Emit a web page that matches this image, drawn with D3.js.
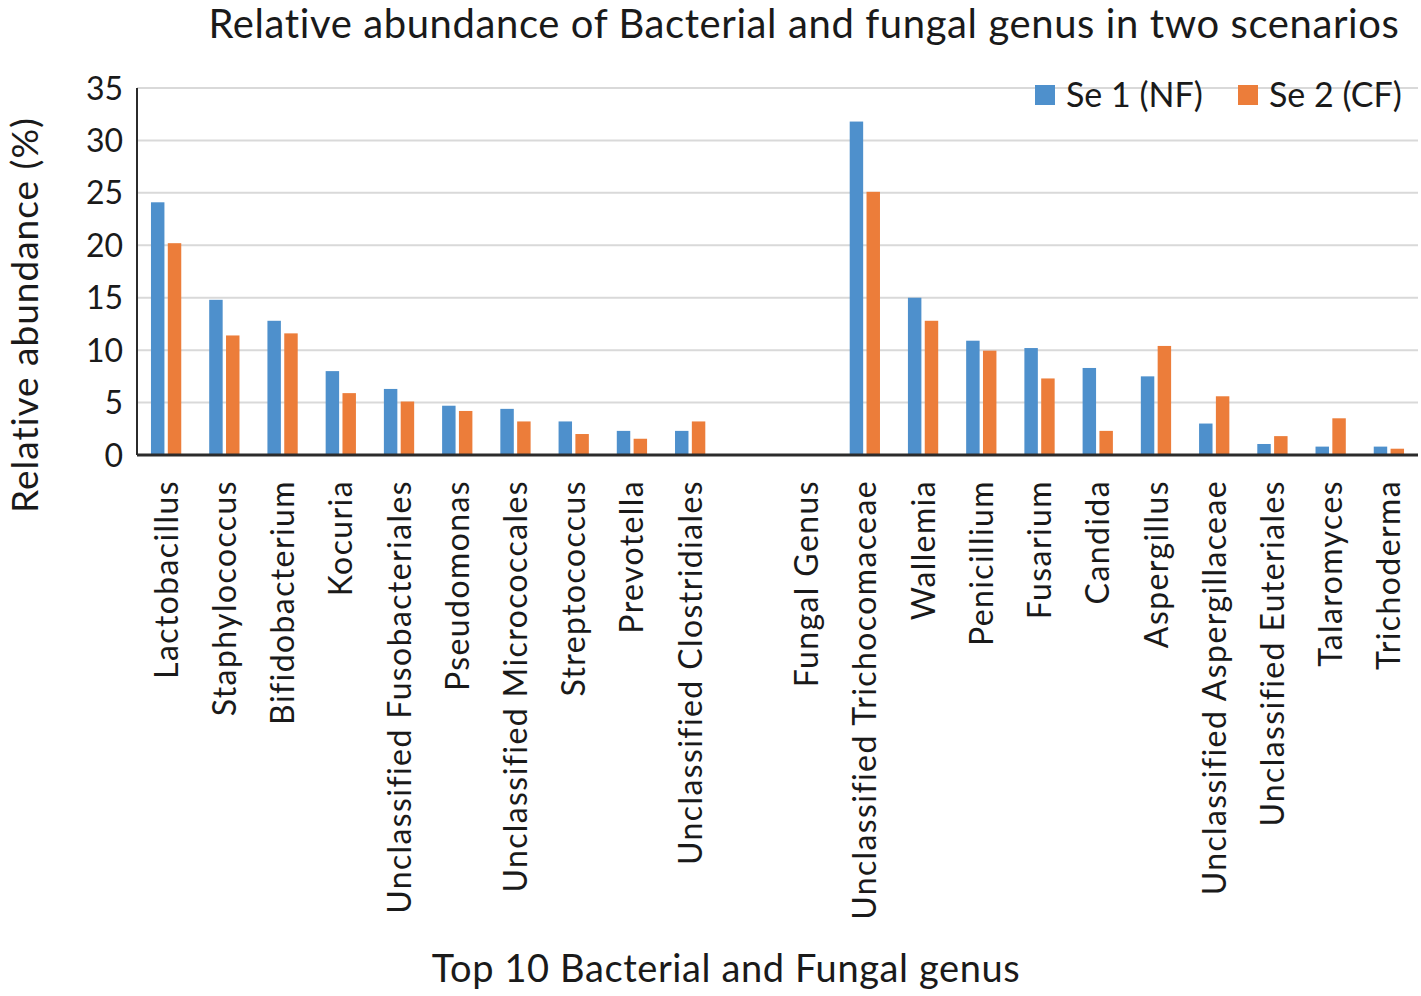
<!DOCTYPE html>
<html>
<head>
<meta charset="utf-8">
<script src="https://cdn.jsdelivr.net/npm/d3@7"></script>
<style>
  html, body { margin: 0; padding: 0; background: #ffffff; }
  svg text { font-family: Lato, "Open Sans", sans-serif; fill: #1a1a1a; }
</style>
</head>
<body>
<svg id="chart" width="1421" height="996"></svg>
<script>
// --- data ---
const categories = [
  "Lactobacillus", "Staphylococcus", "Bifidobacterium", "Kocuria",
  "Unclassified Fusobacteriales", "Pseudomonas", "Unclassified Micrococcales",
  "Streptococcus", "Prevotella", "Unclassified Clostridiales",
  "",
  "Fungal Genus", "Unclassified Trichocomaceae", "Wallemia", "Penicillium",
  "Fusarium", "Candida", "Aspergillus", "Unclassified Aspergillaceae",
  "Unclassified Euteriales", "Talaromyces", "Trichoderma"
];
const seriesNames = ["Se 1 (NF)", "Se 2 (CF)"];
const se1 = [24.1, 14.8, 12.8, 8.0, 6.3, 4.7, 4.4, 3.2, 2.3, 2.3,
             null, null, 31.8, 15.0, 10.9, 10.2, 8.3, 7.5, 3.0, 1.05, 0.8, 0.8];
const se2 = [20.2, 11.4, 11.6, 5.9, 5.1, 4.2, 3.2, 2.0, 1.55, 3.2,
             null, null, 25.1, 12.8, 9.95, 7.3, 2.3, 10.4, 5.6, 1.8, 3.5, 0.6];
const yTicks = [0, 5, 10, 15, 20, 25, 30, 35];
const colors = ["#4e90cc", "#ec7d3a"];

// --- layout ---
const svg = d3.select("#chart");
const plotLeft = 137, plotRight = 1418, plotTop = 88, plotBottom = 455;

const x0 = d3.scaleBand().domain(d3.range(categories.length))
  .range([plotLeft, plotRight]).paddingInner(0.48).paddingOuter(0.24);
const x1 = d3.scaleBand().domain([0, 1]).range([0, x0.bandwidth()]).paddingInner(0.2);
const y = d3.scaleLinear().domain([0, 35]).range([plotBottom, plotTop]);

// gridlines
svg.append("g").selectAll("line").data(yTicks.filter(d => d > 0)).join("line")
  .attr("x1", plotLeft).attr("x2", plotRight)
  .attr("y1", d => y(d)).attr("y2", d => y(d))
  .attr("stroke", "#d9d9d9").attr("stroke-width", 2);

// y tick labels
svg.append("g").selectAll("text").data(yTicks).join("text")
  .attr("x", 123).attr("y", d => y(d))
  .attr("dy", "0.36em")
  .attr("text-anchor", "end")
  .style("font-size", "32px")
  .text(d => d);

// bars
const series = [se1, se2];
series.forEach((vals, si) => {
  svg.append("g").selectAll("rect")
    .data(vals.map((v, i) => ({ i, v })).filter(d => d.v != null))
    .join("rect")
    .attr("x", d => x0(d.i) + x1(si))
    .attr("width", x1.bandwidth())
    .attr("y", d => y(d.v))
    .attr("height", d => y(0) - y(d.v))
    .attr("fill", colors[si]);
});

// axes lines
svg.append("line").attr("x1", plotLeft).attr("x2", plotLeft).attr("y1", plotTop).attr("y2", plotBottom)
  .attr("stroke", "#2b2b2b").attr("stroke-width", 2);
svg.append("line").attr("x1", plotLeft).attr("x2", plotRight).attr("y1", plotBottom).attr("y2", plotBottom)
  .attr("stroke", "#2b2b2b").attr("stroke-width", 3);

// category labels (rotated)
svg.append("g").selectAll("text").data(categories).join("text")
  .attr("transform", (d, i) => `translate(${x0(i) + x0.bandwidth() / 2},480) rotate(-90)`)
  .attr("dy", "0.36em")
  .attr("text-anchor", "end")
  .style("font-size", "32px")
  .style("letter-spacing", "1.4px")
  .text(d => d);

// title
svg.append("text")
  .attr("x", 804).attr("y", 38)
  .attr("text-anchor", "middle")
  .style("font-size", "40px")
  .style("letter-spacing", "0.6px")
  .text("Relative abundance of Bacterial and fungal genus in two scenarios");

// y axis title
svg.append("text")
  .attr("transform", "translate(38,315) rotate(-90)")
  .attr("text-anchor", "middle")
  .style("font-size", "37px")
  .style("letter-spacing", "1px")
  .text("Relative abundance (%)");

// x axis title
svg.append("text")
  .attr("x", 726).attr("y", 982)
  .attr("text-anchor", "middle")
  .style("font-size", "38px")
  .style("letter-spacing", "0.6px")
  .text("Top 10 Bacterial and Fungal genus");

// legend
const legend = svg.append("g");
const legendX = [1035, 1238];
seriesNames.forEach((name, i) => {
  legend.append("rect")
    .attr("x", legendX[i]).attr("y", 85).attr("width", 20).attr("height", 20)
    .attr("fill", colors[i]);
  legend.append("text")
    .attr("x", legendX[i] + 31).attr("y", 95)
    .attr("dy", "0.36em")
    .style("font-size", "34px")
    .text(name);
});
</script>
</body>
</html>
